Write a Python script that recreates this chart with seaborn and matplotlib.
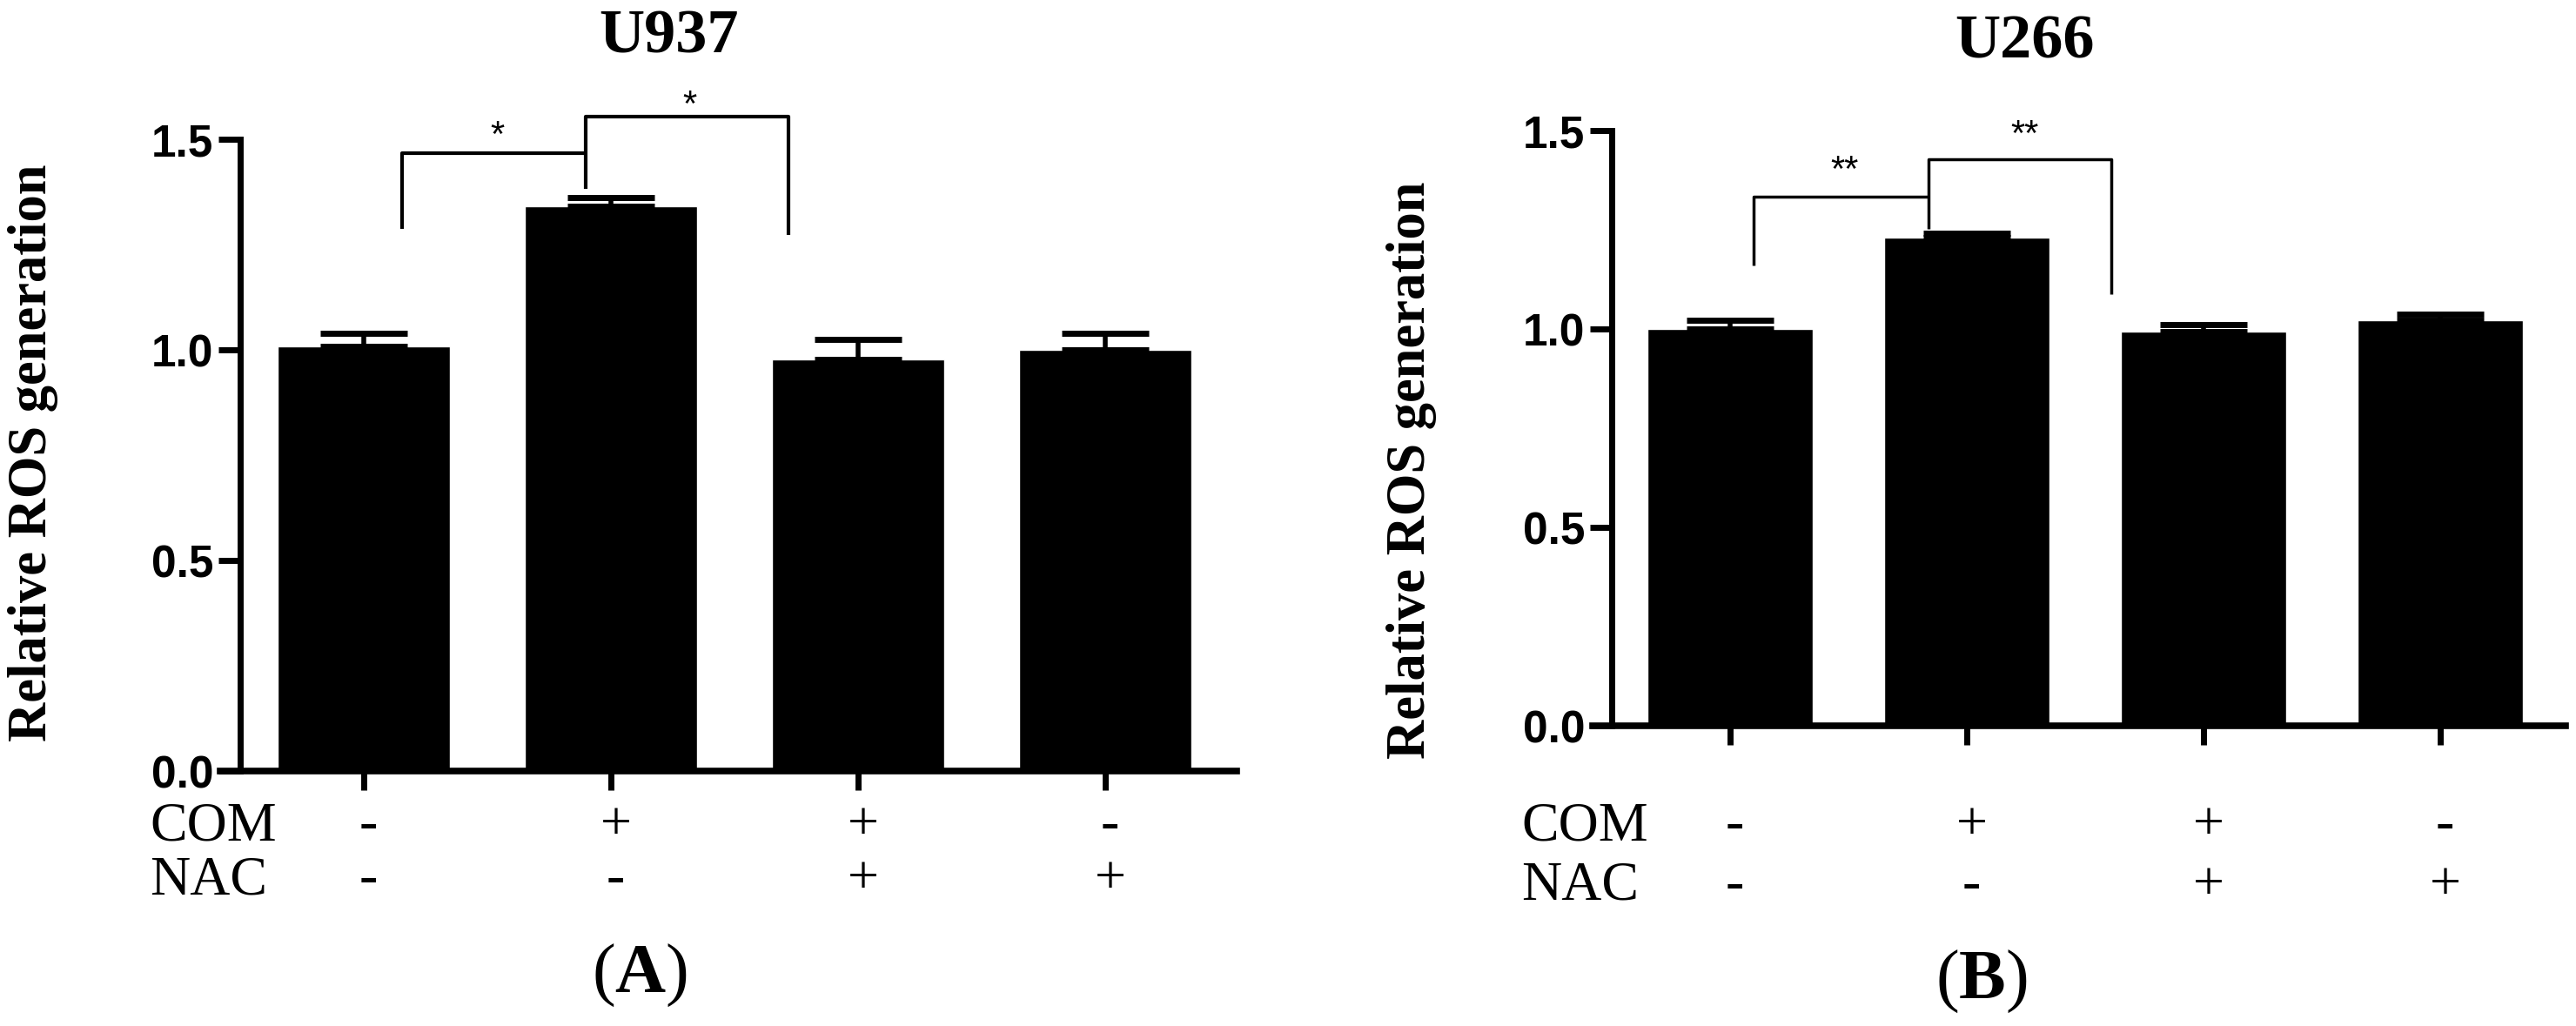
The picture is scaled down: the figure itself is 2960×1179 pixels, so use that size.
import numpy as np
import pandas as pd
import matplotlib
matplotlib.use("Agg")
import matplotlib.pyplot as plt
import matplotlib.transforms as mtransforms
import seaborn as sns

# data
conditions = ["Control", "COM", "COM+NAC", "NAC"]
com_signs = ["-", "+", "+", "-"]
nac_signs = ["-", "-", "+", "+"]

u937_mean = [1.008, 1.341, 0.977, 1.000]
u937_sem = [0.031, 0.021, 0.048, 0.039]
u266_mean = [1.000, 1.230, 0.993, 1.022]
u266_sem = [0.022, 0.012, 0.018, 0.015]

y_ticks = [0.0, 0.5, 1.0, 1.5]

# significance brackets: (x points, y points, label, label x, label y)
u937_brackets = [
    ([0.155, 0.155, 0.898], [1.287, 1.467, 1.467], "*", 0.54, 1.506),
    ([0.898, 0.898, 1.718, 1.718], [1.382, 1.554, 1.554, 1.273], "*", 1.32, 1.579),
]
u266_brackets = [
    ([0.10, 0.10, 0.84], [1.160, 1.333, 1.333], "**", 0.485, 1.397),
    ([0.84, 0.84, 1.61, 1.61], [1.252, 1.428, 1.428, 1.088], "**", 1.246, 1.487),
]

sns.set_style("ticks")
plt.rcParams["font.family"] = ["Liberation Serif", "DejaVu Serif"]
plt.rcParams["mathtext.fontset"] = "custom"
plt.rcParams["mathtext.rm"] = "Liberation Serif"
plt.rcParams["mathtext.bf"] = "Liberation Serif:bold"
for key in ["text.color", "axes.labelcolor", "xtick.color", "ytick.color", "axes.edgecolor"]:
    plt.rcParams[key] = "black"

W, H = 2960, 1179
fig = plt.figure(figsize=(W / 100, H / 100), dpi=100)


def fx(px):
    return px / W


def fy(py):
    return 1 - py / H


def panel(left_px, zero_px, unit_x, unit_y, means, sems, brackets, title,
          title_xy, ylab_xy, row_y, letter, letter_xy, bracket_lw):
    xmin, xmax, ytop = -0.58, 3.53, 1.7
    left = left_px + xmin * unit_x
    ax = fig.add_axes([fx(left), fy(zero_px), (xmax - xmin) * unit_x / W,
                       ytop * unit_y / H])
    df = pd.DataFrame({"condition": conditions, "ros": means})
    sns.barplot(data=df, x="condition", y="ros", color="black", width=0.7,
                errorbar=None, saturation=1, ax=ax)
    ax.errorbar(range(4), means, yerr=[np.zeros(4), sems], fmt="none",
                ecolor="black", elinewidth=4, capsize=36, capthick=5)
    for xs, ys, lab, lx, ly in brackets:
        ax.plot(xs, ys, color="black", lw=bracket_lw, solid_capstyle="butt")
        ax.text(lx, ly, lab, ha="center", va="center", fontsize=30,
                family="Liberation Sans")
    ax.set_xlim(xmin, xmax)
    ax.set_ylim(0, ytop)
    ax.set_xlabel("")
    ax.set_ylabel("")
    sns.despine(ax=ax)
    ax.spines["left"].set_position(("data", -0.5))
    ax.spines["left"].set_bounds(0, 1.5)
    ax.spines["left"].set_linewidth(5)
    ax.spines["bottom"].set_linewidth(5.5)

    # ticks after the spine move, which resets them
    ax.set_xticks(range(4))
    ax.set_xticklabels([])
    ax.set_yticks(y_ticks)
    ax.set_yticklabels([f"{t:.1f}" for t in y_ticks])
    ax.tick_params(axis="y", length=18, width=5, pad=4, labelsize=37,
                   colors="black")
    ax.tick_params(axis="x", length=16, width=5, colors="black")
    for lab in ax.get_yticklabels():
        lab.set_family("Liberation Sans")
        lab.set_fontweight("bold")

    # treatment rows under the axis
    trans = mtransforms.blended_transform_factory(ax.transData, fig.transFigure)
    for name, signs, base in zip(["COM", "NAC"], [com_signs, nac_signs], row_y):
        fig.text(fx(left + 0.08 * unit_x - 104), fy(base), name,
                 fontsize=46, va="baseline", ha="left")
        for i, s in enumerate(signs):
            ax.text(i + 0.02, fy(base), s, transform=trans, fontsize=46,
                    ha="center", va="baseline")

    fig.text(fx(title_xy[0]), fy(title_xy[1]), title, fontsize=52,
             fontweight="bold", ha="center", va="center")
    fig.text(fx(ylab_xy[0]), fy(ylab_xy[1]), "Relative ROS generation",
             fontsize=45, fontweight="bold", rotation=90, ha="center", va="center")
    fig.text(fx(letter_xy[0]), fy(letter_xy[1]),
             r"$\mathrm{(}\mathbf{" + letter + r"}\mathrm{)}$",
             fontsize=58, ha="center", va="baseline")
    return ax


panel(418, 886, 284, 484, u937_mean, u937_sem, u937_brackets, "U937",
      (768, 43), (38, 520), (965, 1027), "A", (735, 1140), 3)
panel(1988, 834, 272, 456, u266_mean, u266_sem, u266_brackets, "U266",
      (2327, 49), (1622, 540), (965, 1034), "B", (2277, 1147), 2.5)

fig.savefig("out.png", dpi=100, facecolor="white")
